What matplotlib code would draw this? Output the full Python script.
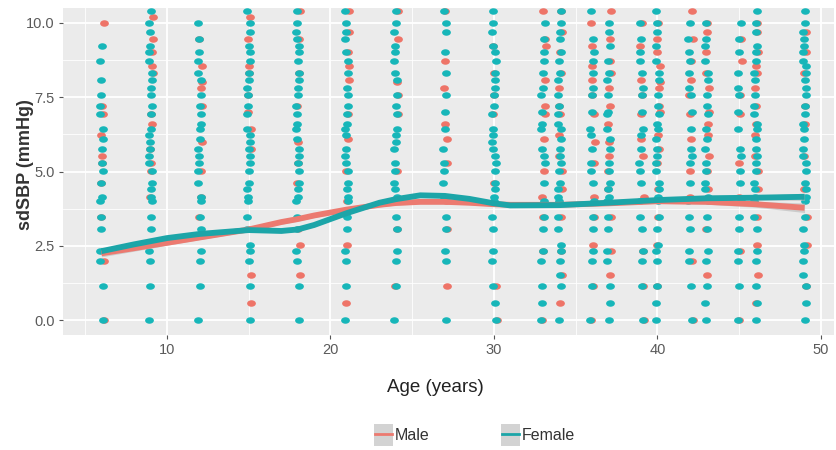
import matplotlib.pyplot as plt
from matplotlib.patches import Rectangle
from matplotlib.lines import Line2D
from matplotlib.path import Path
from matplotlib.transforms import Affine2D

# ages at which measurements were taken
ages = [6, 9, 12, 15, 18, 21, 24, 27, 30, 33, 34, 36, 37, 39, 40, 42, 43, 45, 46, 49]

# sdSBP values per age column
female_pts = [
    [0, 1.15, 2.0, 2.31, 3.06, 3.46, 4.0, 4.16, 4.62, 5.03, 5.29, 5.77, 6.11, 6.43, 6.93, 7.21, 7.57, 8.08, 8.72, 9.24],
    [0, 1.15, 2.0, 2.31, 3.06, 3.46, 4.0, 4.16, 4.4, 4.62, 5.03, 5.29, 5.53, 5.77, 6.0, 6.22, 6.43, 6.93, 7.21, 7.57, 7.82, 8.08, 8.33, 8.72, 9.02, 9.24, 9.7, 10.0, 10.4],
    [0, 1.15, 2.0, 2.31, 3.06, 3.46, 4.0, 4.16, 4.62, 5.03, 5.29, 5.53, 5.77, 6.11, 6.43, 6.61, 6.93, 7.21, 7.57, 8.08, 8.33, 8.72, 9.02, 9.45, 10.0],
    [0, 1.15, 2.0, 2.31, 2.52, 3.06, 3.46, 4.0, 4.16, 4.4, 4.62, 5.03, 5.29, 5.53, 5.77, 6.0, 6.22, 6.43, 6.93, 7.21, 7.57, 7.82, 8.08, 8.33, 8.72, 9.02, 9.24, 9.7, 10.0, 10.4],
    [0, 1.15, 2.0, 2.31, 3.06, 3.46, 4.0, 4.16, 4.4, 4.62, 5.03, 5.29, 5.53, 5.77, 6.11, 6.43, 6.61, 6.93, 7.21, 7.57, 7.82, 8.08, 8.33, 8.72, 9.02, 9.24, 9.45, 9.7, 10.0, 10.4],
    [0, 1.15, 2.0, 2.31, 3.06, 3.46, 4.0, 4.16, 4.4, 4.62, 5.03, 5.29, 5.53, 5.77, 6.22, 6.43, 6.61, 6.93, 7.21, 7.57, 7.82, 8.33, 8.72, 9.02, 9.45, 9.7, 10.0, 10.4],
    [0, 1.15, 2.0, 2.31, 3.06, 3.46, 4.0, 4.16, 4.4, 4.62, 5.03, 5.29, 5.77, 6.0, 6.22, 6.43, 6.93, 7.21, 7.57, 8.08, 8.33, 8.72, 9.02, 9.24, 9.7, 10.0, 10.4],
    [0, 2.0, 2.31, 3.06, 3.46, 4.16, 4.62, 5.03, 5.29, 5.77, 6.43, 7.02, 7.57, 8.33, 9.02, 9.7, 10.0, 10.4],
    [0, 0.58, 1.15, 2.0, 2.31, 3.06, 3.46, 4.0, 4.16, 4.4, 4.62, 5.03, 5.29, 5.53, 5.77, 6.0, 6.22, 6.43, 6.93, 7.21, 7.57, 7.82, 8.08, 8.33, 8.72, 9.02, 9.24, 9.7, 10.0, 10.4],
    [0, 0.58, 1.15, 2.0, 2.31, 3.06, 3.46, 4.0, 4.62, 5.29, 5.53, 5.77, 6.43, 6.61, 7.02, 7.57, 7.82, 8.33, 8.72, 9.02, 9.45, 10.0],
    [0, 1.15, 1.53, 2.0, 2.31, 2.52, 3.06, 3.46, 4.0, 4.16, 4.4, 4.62, 5.03, 5.29, 5.53, 5.77, 6.11, 6.43, 6.61, 6.93, 7.21, 7.57, 8.08, 8.33, 8.72, 9.02, 9.45, 9.7, 10.0, 10.4],
    [0, 1.15, 2.0, 2.31, 3.06, 3.46, 4.0, 4.62, 5.03, 5.29, 5.77, 6.22, 6.43, 7.02, 7.57, 7.82, 8.33, 8.72, 9.02, 9.45, 10.4],
    [0, 0.58, 1.15, 2.0, 2.31, 3.06, 3.46, 4.0, 4.16, 4.4, 4.62, 5.03, 5.29, 5.77, 6.11, 6.43, 6.93, 7.02, 7.57, 8.08, 8.33, 8.72, 9.24, 9.7, 10.0],
    [0, 1.15, 2.0, 2.31, 3.06, 3.46, 4.0, 4.62, 5.03, 5.29, 5.77, 6.22, 6.43, 7.02, 7.57, 7.82, 8.33, 8.72, 9.02, 9.45, 10.0],
    [0, 0.58, 1.15, 2.0, 2.31, 2.52, 3.06, 3.46, 4.0, 4.16, 4.4, 4.62, 5.03, 5.29, 5.53, 5.77, 6.11, 6.43, 6.61, 6.93, 7.21, 7.57, 8.08, 8.33, 8.72, 9.24, 9.7, 10.0, 10.4],
    [0, 1.15, 2.0, 2.31, 3.06, 3.46, 4.0, 4.62, 5.29, 5.53, 5.77, 6.43, 7.02, 7.57, 7.82, 8.33, 8.72, 9.02, 9.45, 10.0],
    [0, 0.58, 1.15, 2.0, 2.31, 3.06, 3.46, 4.0, 4.16, 4.4, 4.62, 5.03, 5.29, 5.77, 6.11, 6.43, 6.93, 7.21, 7.57, 8.08, 8.33, 8.72, 9.24, 9.45, 10.0],
    [0, 1.15, 2.0, 2.31, 3.06, 3.46, 4.0, 4.62, 5.03, 5.53, 5.77, 6.43, 7.02, 7.57, 7.82, 8.33, 9.02, 9.45, 10.0],
    [0, 0.58, 1.15, 2.0, 2.31, 3.06, 3.46, 4.0, 4.16, 4.4, 4.62, 5.03, 5.29, 5.53, 5.77, 6.11, 6.43, 6.61, 6.93, 7.21, 7.57, 8.08, 8.33, 8.72, 9.02, 9.24, 9.7, 10.0, 10.4],
    [0, 0.58, 1.15, 1.53, 2.0, 2.31, 2.52, 3.06, 3.46, 4.0, 4.16, 4.4, 4.62, 5.03, 5.29, 5.53, 5.77, 6.11, 6.43, 6.61, 6.93, 7.21, 7.57, 7.82, 8.08, 8.33, 8.54, 8.72, 9.02, 9.24, 9.45, 9.7, 10.0, 10.4],
]
male_pts = [
    [0, 2.0, 3.46, 4.62, 5.29, 5.53, 6.22, 6.93, 7.21, 10.0],
    [4.16, 5.03, 5.29, 5.77, 6.61, 6.93, 8.33, 8.54, 9.02, 9.45, 10.2],
    [3.46, 4.16, 5.03, 6.0, 7.21, 7.82, 8.0, 8.54, 9.45],
    [0.58, 1.53, 3.06, 5.77, 6.43, 7.02, 7.57, 8.33, 8.54, 9.45, 10.2],
    [1.53, 2.52, 3.06, 4.62, 5.29, 6.0, 7.21, 8.33, 9.45, 10.4],
    [0.58, 2.52, 4.0, 5.03, 6.11, 6.93, 8.08, 8.54, 9.02, 9.7, 10.4],
    [1.15, 3.06, 5.03, 6.93, 7.57, 8.0, 9.45, 10.4],
    [1.15, 3.06, 4.0, 5.29, 6.11, 6.61, 7.82, 8.72, 10.4],
    [0, 1.15, 4.62, 6.93, 7.57, 8.33, 9.24],
    [0, 2.31, 3.46, 4.16, 5.03, 6.11, 6.93, 7.21, 8.08, 9.24, 9.45, 10.4],
    [0.58, 1.53, 2.31, 3.46, 4.4, 5.03, 5.53, 6.22, 6.93, 7.21, 7.82, 8.33, 9.02, 9.7, 10.4],
    [0, 1.15, 2.52, 3.46, 4.16, 5.29, 6.0, 6.93, 7.57, 8.08, 8.54, 9.24, 10.0],
    [1.53, 2.31, 3.46, 4.4, 5.03, 5.53, 6.0, 6.61, 7.21, 7.82, 8.33, 8.72, 9.45, 10.4],
    [0, 1.15, 2.31, 4.16, 5.53, 6.11, 6.93, 7.57, 8.08, 9.24, 10.0],
    [1.15, 2.52, 3.46, 4.4, 5.29, 5.77, 6.22, 7.02, 7.21, 7.82, 8.0, 8.54, 9.02, 9.45, 10.0],
    [0, 2.0, 4.16, 5.03, 6.11, 6.93, 7.57, 8.08, 8.72, 9.45, 10.4],
    [1.53, 3.06, 4.4, 5.03, 5.53, 6.22, 6.61, 7.02, 7.82, 8.33, 9.02, 9.7, 10.0],
    [0, 2.31, 4.16, 5.29, 6.93, 7.57, 8.72, 9.45],
    [0.58, 1.53, 2.52, 3.46, 4.4, 5.03, 5.53, 6.22, 6.61, 7.21, 7.82, 8.33, 8.54, 9.02, 9.7, 10.0],
    [1.15, 2.52, 3.46, 4.4, 5.53, 6.61, 7.21, 8.33, 9.02, 9.7],
]

# smoothed trend lines and half-width of their bands
smooth_age = [6, 8, 10, 12, 15, 17, 18, 19, 21, 23, 24, 25.5, 27, 28.5, 30, 31, 34, 37, 40, 43, 46, 49]
male_fit = [2.25, 2.42, 2.6, 2.78, 3.05, 3.3, 3.4, 3.52, 3.72, 3.88, 3.94, 3.98, 3.98, 3.95, 3.9, 3.88, 3.88, 3.93, 4.0, 3.98, 3.9, 3.78]
female_fit = [2.32, 2.55, 2.76, 2.9, 3.03, 3.0, 3.05, 3.2, 3.6, 3.95, 4.07, 4.2, 4.18, 4.08, 3.93, 3.86, 3.87, 3.95, 4.04, 4.1, 4.12, 4.15]
male_se = [0.12, 0.1, 0.08, 0.07, 0.07, 0.07, 0.07, 0.07, 0.07, 0.07, 0.07, 0.07, 0.07, 0.07, 0.06, 0.06, 0.06, 0.06, 0.07, 0.08, 0.1, 0.16]
female_se = [0.1, 0.08, 0.07, 0.06, 0.06, 0.06, 0.06, 0.06, 0.06, 0.06, 0.06, 0.06, 0.06, 0.06, 0.05, 0.05, 0.05, 0.05, 0.05, 0.06, 0.08, 0.12]

male_pt_color = '#EE7468'
female_pt_color = '#17B6B9'
male_line_color = '#EC7A70'
female_line_color = '#1CA5A8'

plt.rcParams['font.family'] = ['Liberation Sans', 'DejaVu Sans']

fig = plt.figure(figsize=(8.36, 4.5), dpi=100)
ax = fig.add_axes([0.0754, 0.2556, 0.9222, 0.7264])
ax.set_facecolor('#EBEBEB')

# slightly wide rounded dot, like the blurred points of the original
dot = Path.unit_circle().transformed(Affine2D().scale(1.35, 1.0))
jit = [-0.1, 0.04, -0.03, 0.09, -0.07, 0.02, 0.1, -0.05, 0.06, -0.09, 0.0, 0.08]


def scatter_cols(pts, color, shift):
    xs, ys = [], []
    for a, vals in zip(ages, pts):
        for k, v in enumerate(vals):
            xs.append(a + shift + jit[(k * 5 + a) % len(jit)])
            ys.append(v)
    ax.scatter(xs, ys, s=40, color=color, marker=dot, linewidths=0, zorder=3)


scatter_cols(male_pts, male_pt_color, 0.06)
scatter_cols(female_pts, female_pt_color, 0.0)

ax.fill_between(smooth_age, [m - s for m, s in zip(male_fit, male_se)],
                [m + s for m, s in zip(male_fit, male_se)], color='#B8B8B8', alpha=0.6, lw=0, zorder=4)
ax.fill_between(smooth_age, [m - s for m, s in zip(female_fit, female_se)],
                [m + s for m, s in zip(female_fit, female_se)], color='#B8B8B8', alpha=0.6, lw=0, zorder=4)
ax.plot(smooth_age, male_fit, color=male_line_color, lw=4.2, zorder=5, solid_capstyle='butt')
ax.plot(smooth_age, female_fit, color=female_line_color, lw=4.2, zorder=6, solid_capstyle='butt')

ax.set_xlim(3.65, 50.8)
ax.set_ylim(-0.5, 10.5)
ax.set_xticks([10, 20, 30, 40, 50])
ax.set_xticks([5, 15, 25, 35, 45], minor=True)
ax.set_yticks([0, 2.5, 5, 7.5, 10])
ax.set_yticklabels(['0.0', '2.5', '5.0', '7.5', '10.0'])
ax.set_yticks([1.25, 3.75, 6.25, 8.75], minor=True)
ax.grid(which='major', color='white', lw=1.3, zorder=0)
ax.grid(which='minor', color='white', lw=0.6, zorder=0)
ax.set_axisbelow(True)
for sp in ax.spines.values():
    sp.set_visible(False)
ax.tick_params(which='major', length=3, color='#555555', labelsize=10.5, labelcolor='#5A5A5A', pad=3)
ax.tick_params(which='minor', length=0)

ax.set_xlabel('Age (years)', fontsize=13.5, color='#222222')
ax.xaxis.set_label_coords(0.483, -0.135)
ax.set_ylabel('sdSBP (mmHg)', fontsize=13, fontweight='bold', color='#333333')
ax.yaxis.set_label_coords(-0.038, 0.52)

# legend drawn by hand: grey key boxes with a coloured stroke
for x0, col, name in [(374, male_line_color, 'Male'), (501, female_line_color, 'Female')]:
    fig.add_artist(Rectangle((x0 / 836, 1 - 446 / 450), 19 / 836, 22 / 450,
                             transform=fig.transFigure, facecolor='#D3D3D3', edgecolor='none'))
    fig.add_artist(Line2D([(x0 + 1) / 836, (x0 + 18) / 836], [1 - 434 / 450] * 2,
                          transform=fig.transFigure, color=col, lw=2))
    fig.text((x0 + 21) / 836, 1 - 436 / 450, name, fontsize=11.5, color='#333333', va='center', ha='left')

fig.savefig('out.png', dpi=100)
